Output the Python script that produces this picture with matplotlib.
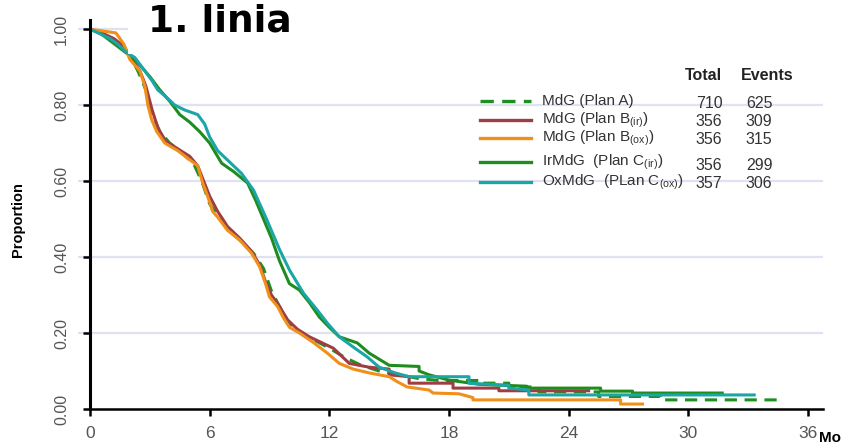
import matplotlib
matplotlib.use('Agg')
import matplotlib.pyplot as plt
from matplotlib.patches import Rectangle
from matplotlib.lines import Line2D

plt.rcParams['font.family'] = ['Liberation Sans', 'DejaVu Sans']

# Kaplan-Meier curves (months, proportion); repeated times are steps
t_a = [0, 0.5, 1.0, 1.5, 2.0, 2.4, 2.8, 3.1, 3.5, 4.0, 4.6, 5.2, 5.6, 6.0, 6.5, 7.0, 7.6, 8.2, 8.7, 9.1,
       9.6, 10.0, 10.6, 11.3, 12.0, 12.8, 13.6, 14.5, 15.5, 16.5, 17.5, 19.5, 19.5, 21.0, 21.0, 22.5, 22.5,
       25.5, 25.5, 28.6, 28.6, 34.5]
s_a = [1.0, 0.99, 0.975, 0.96, 0.93, 0.89, 0.84, 0.78, 0.73, 0.70, 0.675, 0.645, 0.60, 0.54, 0.50, 0.47,
       0.44, 0.41, 0.37, 0.31, 0.26, 0.225, 0.20, 0.18, 0.16, 0.135, 0.115, 0.10, 0.09, 0.08, 0.075, 0.075,
       0.068, 0.068, 0.058, 0.058, 0.045, 0.045, 0.033, 0.033, 0.024, 0.024]

t_bir = [0, 0.6, 1.2, 1.7, 2.1, 2.5, 2.8, 3.1, 3.4, 3.8, 4.4, 5.0, 5.4, 5.7, 6.0, 6.4, 6.9, 7.5, 8.1, 8.5,
         8.8, 9.1, 9.5, 9.9, 10.4, 11.0, 11.6, 12.2, 13.0, 14.0, 15.0, 15.0, 16.0, 16.0, 17.0, 18.2, 18.2,
         20.5, 20.5, 25.0]
s_bir = [1.0, 0.99, 0.975, 0.955, 0.92, 0.89, 0.85, 0.79, 0.74, 0.705, 0.685, 0.665, 0.64, 0.60, 0.56, 0.52,
         0.48, 0.45, 0.415, 0.38, 0.335, 0.30, 0.27, 0.235, 0.21, 0.19, 0.175, 0.16, 0.12, 0.11, 0.105, 0.09,
         0.085, 0.068, 0.068, 0.068, 0.055, 0.055, 0.048, 0.048]

t_box = [0, 1.3, 1.7, 2.0, 2.5, 2.75, 2.9, 3.1, 3.35, 3.75, 4.4, 4.9, 5.4, 5.65, 5.9, 6.15, 6.4, 6.9, 7.5,
         8.1, 8.5, 8.8, 9.0, 9.4, 9.7, 10.0, 10.5, 11.2, 11.9, 12.5, 13.2, 14.0, 15.0, 15.4, 15.9, 17.0, 17.2,
         18.5, 19.2, 19.2, 26.6, 26.6, 27.7]
s_box = [1.0, 0.99, 0.96, 0.92, 0.89, 0.85, 0.80, 0.76, 0.73, 0.70, 0.68, 0.66, 0.64, 0.595, 0.56, 0.52,
         0.505, 0.47, 0.445, 0.41, 0.375, 0.33, 0.295, 0.27, 0.24, 0.215, 0.20, 0.175, 0.147, 0.12, 0.105,
         0.095, 0.085, 0.072, 0.058, 0.05, 0.042, 0.04, 0.03, 0.024, 0.024, 0.013, 0.013]

t_cir = [0, 0.5, 1.0, 1.5, 2.0, 2.5, 3.0, 3.5, 4.0, 4.5, 5.0, 5.5, 6.0, 6.6, 7.2, 7.9, 8.3, 8.7, 9.1, 9.5,
         10.0, 10.5, 11.0, 11.5, 12.0, 12.5, 13.4, 14.0, 15.0, 16.5, 16.5, 17.0, 18.0, 19.5, 21.9, 21.9,
         25.6, 25.6, 27.2, 27.2, 31.7]
s_cir = [1.0, 0.99, 0.97, 0.95, 0.93, 0.905, 0.875, 0.84, 0.81, 0.775, 0.755, 0.73, 0.70, 0.647, 0.625,
         0.595, 0.55, 0.50, 0.45, 0.39, 0.33, 0.313, 0.28, 0.242, 0.215, 0.19, 0.174, 0.147, 0.115, 0.112,
         0.10, 0.09, 0.076, 0.065, 0.06, 0.055, 0.055, 0.047, 0.047, 0.042, 0.042]

t_cox = [0, 0.4, 1.0, 1.4, 1.8, 2.25, 2.75, 3.1, 3.4, 3.85, 4.25, 4.75, 5.4, 5.75, 6.0, 6.4, 6.9, 7.6, 8.2,
         8.85, 9.5, 10.0, 10.7, 11.4, 11.9, 12.5, 13.2, 13.9, 14.5, 15.3, 16.0, 19.0, 19.0, 21.0, 21.0, 22.0,
         22.0, 33.3]
s_cox = [1.0, 0.99, 0.975, 0.96, 0.94, 0.925, 0.89, 0.865, 0.84, 0.82, 0.80, 0.787, 0.775, 0.75, 0.716,
         0.68, 0.655, 0.62, 0.576, 0.50, 0.42, 0.366, 0.305, 0.26, 0.226, 0.19, 0.163, 0.137, 0.11, 0.095,
         0.085, 0.085, 0.068, 0.062, 0.055, 0.05, 0.037, 0.037]

labels = ['MdG (Plan A)', r'MdG (Plan B$\mathregular{_{(ir)}}$)', r'MdG (Plan B$\mathregular{_{(ox)}}$)',
          r'IrMdG  (Plan C$\mathregular{_{(ir)}}$)', r'OxMdG  (PLan C$\mathregular{_{(ox)}}$)']
totals = [710, 356, 356, 356, 357]
events = [625, 309, 315, 299, 306]

c_a = '#1f8f1f'
c_bir = '#9e3d44'
c_box = '#f0901a'
c_cir = '#1e8c1e'
c_cox = '#1aa6a6'

W, H = 846, 446
fig = plt.figure(figsize=(W / 100, H / 100), dpi=100)


def fx(px):
    return px / W


def fy(py):
    return 1 - py / H


ax = fig.add_axes([fx(90), fy(409), fx(823) - fx(90), fy(20) - fy(409)])
ax.set_xlim(0, 36.75)
ax.set_ylim(0, 1.024)

ax.hlines([0.2, 0.4, 0.6, 0.8, 1.0], -0.6, 36.75, colors='#dfe2f0', linewidth=1.6, zorder=0, clip_on=False)

lw = 2.2
ax.plot(t_a, s_a, color=c_a, lw=lw, linestyle=(0, (4, 2.5)))
ax.plot(t_bir, s_bir, color=c_bir, lw=lw)
ax.plot(t_cir, s_cir, color=c_cir, lw=lw)
ax.plot(t_box, s_box, color=c_box, lw=lw)
ax.plot(t_cox, s_cox, color=c_cox, lw=lw)

for side in ['top', 'right']:
    ax.spines[side].set_visible(False)
ax.spines['left'].set_linewidth(2.2)
ax.spines['bottom'].set_linewidth(1.8)
ax.set_xticks([0, 6, 12, 18, 24, 30, 36])
ax.set_yticks([0, 0.2, 0.4, 0.6, 0.8, 1.0])
ax.set_yticklabels(['0.00', '0.20', '0.40', '0.60', '0.80', '1.00'], rotation=90, va='center')
ax.tick_params(axis='both', direction='out', length=5, width=1.8, colors='black',
               labelcolor='#555555', labelsize=12.5)
ax.tick_params(axis='x', pad=7)
ax.tick_params(axis='y', pad=10, labelsize=11.5)

fig.text(fx(18), fy(220), 'Proportion', rotation=90, fontsize=10.5, fontweight='bold',
         ha='center', va='center')
fig.text(fx(819), fy(438), 'Mo', fontsize=11, fontweight='bold', ha='left', va='center')

# white band behind the title, hiding the top of the curves and the 1.00 grid line
fig.patches.append(Rectangle((fx(128), fy(54)), 1 - fx(128), fy(0) - fy(54),
                             transform=fig.transFigure, facecolor='white', edgecolor='none', zorder=5))
fig.text(fx(148), fy(22), '1. linia', fontsize=27, fontweight='bold', family='DejaVu Sans',
         ha='left', va='center', zorder=6)

# legend drawn as a small table
fig.text(fx(703), fy(75), 'Total', fontsize=11.5, fontweight='bold', color='#222222', ha='center', va='center')
fig.text(fx(767), fy(75), 'Events', fontsize=11.5, fontweight='bold', color='#222222', ha='center', va='center')

row_y = [101, 120, 138, 162, 182]
num_y = [104, 121, 140, 166, 183]
colors = [c_a, c_bir, c_box, c_cir, c_cox]
styles = [(0, (4, 2.5)), '-', '-', '-', '-']
for i in range(5):
    fig.add_artist(Line2D([fx(480), fx(531)], [fy(row_y[i]), fy(row_y[i])], color=colors[i],
                          lw=2.4, linestyle=styles[i]))
    fig.text(fx(542), fy(row_y[i]), labels[i], fontsize=11, color='#333333', ha='left', va='center')
    fig.text(fx(709), fy(num_y[i]), str(totals[i]), fontsize=11.5, color='#333333', ha='center', va='center')
    fig.text(fx(759), fy(num_y[i]), str(events[i]), fontsize=11.5, color='#333333', ha='center', va='center')

fig.savefig('out.png', dpi=100)
